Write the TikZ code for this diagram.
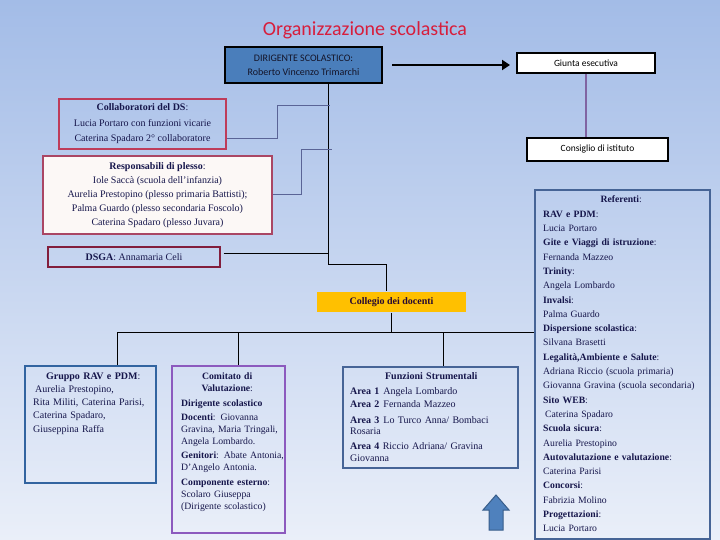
\documentclass[tikz,border=0pt]{standalone}
\usepackage{fontspec}
\setmainfont{Liberation Serif}
\newfontfamily\calib{Carlito}
\usetikzlibrary{arrows.meta,calc}
\definecolor{bgtop}{RGB}{163,188,231}
\definecolor{bgmid}{RGB}{195,211,238}
\definecolor{bgbot}{RGB}{234,239,249}
\definecolor{txt}{RGB}{22,22,75}
\definecolor{titlered}{RGB}{215,30,60}
\definecolor{dsfill}{RGB}{74,126,187}
\definecolor{purpleline}{RGB}{128,100,162}
\definecolor{greyline}{RGB}{90,100,150}
\definecolor{crimson}{RGB}{190,60,90}
\definecolor{rosy}{RGB}{170,70,100}
\definecolor{maroon}{RGB}{130,30,60}
\definecolor{gold}{RGB}{255,192,0}
\definecolor{steel}{RGB}{50,100,160}
\definecolor{violet}{RGB}{140,90,190}
\definecolor{slate}{RGB}{70,100,150}
\definecolor{arrowfill}{RGB}{79,129,189}
\definecolor{arrowdraw}{RGB}{56,93,138}
\tikzset{
  sansbox/.style={draw=black, line width=2pt, fill=white, inner sep=0pt,
    font=\calib\fontsize{9.5}{14}\selectfont, align=center},
  serifbox/.style={inner sep=0pt, line width=1.1pt, text=txt,
    font=\fontsize{10}{15.5}\selectfont, align=center},
  emptybox/.style={inner sep=0pt, line width=1.1pt},
  boxtext/.style={anchor=base west, inner sep=0pt, text=txt, text width=200pt, align=left},
  conn/.style={draw=black, line width=1pt},
  gconn/.style={draw=greyline, line width=1pt},
}
\begin{document}
\begin{tikzpicture}[x=1pt,y=-1pt]
\useasboundingbox (0,0) rectangle (720,540);
\shade[top color=bgtop, middle color=bgmid, bottom color=bgbot] (0,0) rectangle (720,540);

\node[font=\calib\fontsize{20}{24}\selectfont, text=titlered] (title) at (365,30) {Organizzazione scolastica};

% top boxes
\node[sansbox, fill=dsfill, line width=2.5pt, text={rgb,255:red,20;green,20;blue,40},
  font=\calib\fontsize{10}{14}\selectfont,
  minimum width=157pt, minimum height=36pt] (ds) at (303.5,65) {DIRIGENTE SCOLASTICO:\\Roberto Vincenzo Trimarchi};
\node[sansbox, minimum width=138pt, minimum height=20pt] (giunta) at (586,63) {Giunta esecutiva};
\node[sansbox, minimum width=141pt, minimum height=23pt] (consiglio) at (597.5,149.5) {Consiglio di istituto};

\coordinate (arrS) at ($(ds.east)+(9,0)$);
\coordinate (arrE) at ($(giunta.west |- ds.east)+(-6,0)$);
\draw[line width=2.5pt, -{Triangle[length=8pt,width=10pt]}] (arrS) -- (arrE);
\draw[purpleline, line width=2.5pt] (giunta.south) -- (giunta.south |- consiglio.north);

% left boxes
\node[serifbox, draw=crimson, minimum width=167pt, minimum height=50pt] (collab) at (142.5,124)
  {\textbf{Collaboratori del DS}:\\Lucia Portaro con funzioni vicarie\\Caterina Spadaro 2° collaboratore};
\node[serifbox, draw=rosy, fill={rgb,255:red,252;green,248;blue,246}, font=\fontsize{10}{14}\selectfont,
  minimum width=229pt, minimum height=78pt] (resp) at (157.5,195)
  {\textbf{Responsabili di plesso}:\\Iole Saccà (scuola dell’infanzia)\\Aurelia Prestopino (plesso primaria Battisti);\\Palma Guardo (plesso secondaria Foscolo)\\Caterina Spadaro (plesso Juvara)};
\node[serifbox, draw=maroon, minimum width=172pt, minimum height=20pt] (dsga) at (134,257)
  {\textbf{DSGA}: Annamaria Celi};

\node[serifbox, fill=gold, text={rgb,255:red,40;green,10;blue,50}, minimum width=149pt, minimum height=20pt] (collegio) at (391.5,302)
  {\textbf{Collegio dei docenti}};

% connectors to main line
\coordinate (j1) at (328,264);
\coordinate (j2) at (386,264);
\coordinate (cEnd) at (330,106);
\coordinate (cMid) at (277,106);
\coordinate (rEnd) at (332,150);
\coordinate (rMid) at (301,150);
\coordinate (dEnd) at (328,253);
\draw[conn] (ds.south -| j1) -- (j1) -- (j2) -- (j2 |- collegio.north);
\draw[gconn] ($(collab.east)+(0,15)$) -| (cMid) -- (cEnd);
\draw[gconn] (resp.east) -| (rMid) -- (rEnd);
\draw[conn] ($(dsga.east)+(3,-4)$) -- (dEnd);

% bottom boxes
\node[emptybox, draw=steel, minimum width=131pt, minimum height=117pt] (gruppo) at (90.5,424.5) {};
\node[emptybox, draw=violet, minimum width=113pt, minimum height=167pt] (comitato) at (228.5,449.5) {};
\node[emptybox, draw=slate, minimum width=175pt, minimum height=101pt] (funzioni) at (430.5,417.5) {};
\node[emptybox, draw=slate, minimum width=175pt, minimum height=349pt] (referenti) at (622.5,364.5) {};

\coordinate (bus) at (391,332);
\coordinate (busL) at (117,332);
\coordinate (dC) at (238,332);
\coordinate (dF) at (443,332);
\draw[conn] (collegio.south -| bus) -- (bus);
\draw[conn] (busL) -- (referenti.west |- busL);
\draw[conn] (busL) -- (busL |- gruppo.north);
\draw[conn] (dC) -- (dC |- comitato.north);
\draw[conn] (dF) -- (dF |- funzioni.north);

% texts
\node[boxtext, font=\fontsize{10}{13.3}\selectfont] (gruppoT) at (33,379)
  {\makebox[120pt]{\textbf{Gruppo RAV e PDM}:}\\
   \hspace*{2pt}Aurelia Prestopino,\\
   Rita Militi, Caterina Parisi,\\
   Caterina Spadaro,\\
   Giuseppina Raffa};

\node[boxtext, font=\fontsize{9.7}{12}\selectfont] (comitatoT) at (181,379)
  {\makebox[92pt]{\textbf{Comitato di}}\\
   \makebox[92pt]{\textbf{Valutazione}:}\\[3pt]
   \textbf{Dirigente scolastico}\\[2pt]
   \textbf{Docenti}: Giovanna\\
   Gravina, Maria Tringali,\\
   Angela Lombardo.\\[2pt]
   \textbf{Genitori}: Abate Antonia,\\
   D’Angelo Antonia.\\[3pt]
   \textbf{Componente esterno}:\\
   Scolaro Giuseppa\\
   (Dirigente scolastico)};

\node[boxtext, font=\fontsize{10}{11.5}\selectfont] (funzioniT) at (350,379)
  {\makebox[162pt]{\textbf{Funzioni Strumentali}}\\[3.5pt]
   \textbf{Area 1}\hspace{4pt}Angela Lombardo\\[1.5pt]
   \textbf{Area 2}\hspace{4pt}Fernanda Mazzeo\\[4.5pt]
   \textbf{Area 3}\hspace{4pt}Lo Turco Anna/ Bombaci\\
   Rosaria\\[3.5pt]
   \textbf{Area 4} Riccio Adriana/ Gravina\\
   Giovanna};

\node[boxtext, font=\fontsize{9.7}{14.3}\selectfont] (referentiT) at (543,203)
  {\makebox[156pt]{\textbf{Referenti}:}\\
   \textbf{RAV e PDM}:\\
   Lucia Portaro\\
   \textbf{Gite e Viaggi di istruzione}:\\
   Fernanda Mazzeo\\
   \textbf{Trinity}:\\
   Angela Lombardo\\
   \textbf{Invalsi}:\\
   Palma Guardo\\
   \textbf{Dispersione scolastica}:\\
   Silvana Brasetti\\
   \textbf{Legalità,Ambiente e Salute}:\\
   Adriana Riccio (scuola primaria)\\
   Giovanna Gravina (scuola secondaria)\\
   \textbf{Sito WEB}:\\
   \hspace*{2pt}Caterina Spadaro\\
   \textbf{Scuola sicura}:\\
   Aurelia Prestopino\\
   \textbf{Autovalutazione e valutazione}:\\
   Caterina Parisi\\
   \textbf{Concorsi}:\\
   Fabrizia Molino\\
   \textbf{Progettazioni}:\\
   Lucia Portaro};

% blue up arrow
\draw[fill=arrowfill, draw=arrowdraw, line width=1pt]
  (496,495) -- (509,510) -- (503,510) -- (503,530) -- (489,530) -- (489,510) -- (483,510) -- cycle;
\end{tikzpicture}
\end{document}
